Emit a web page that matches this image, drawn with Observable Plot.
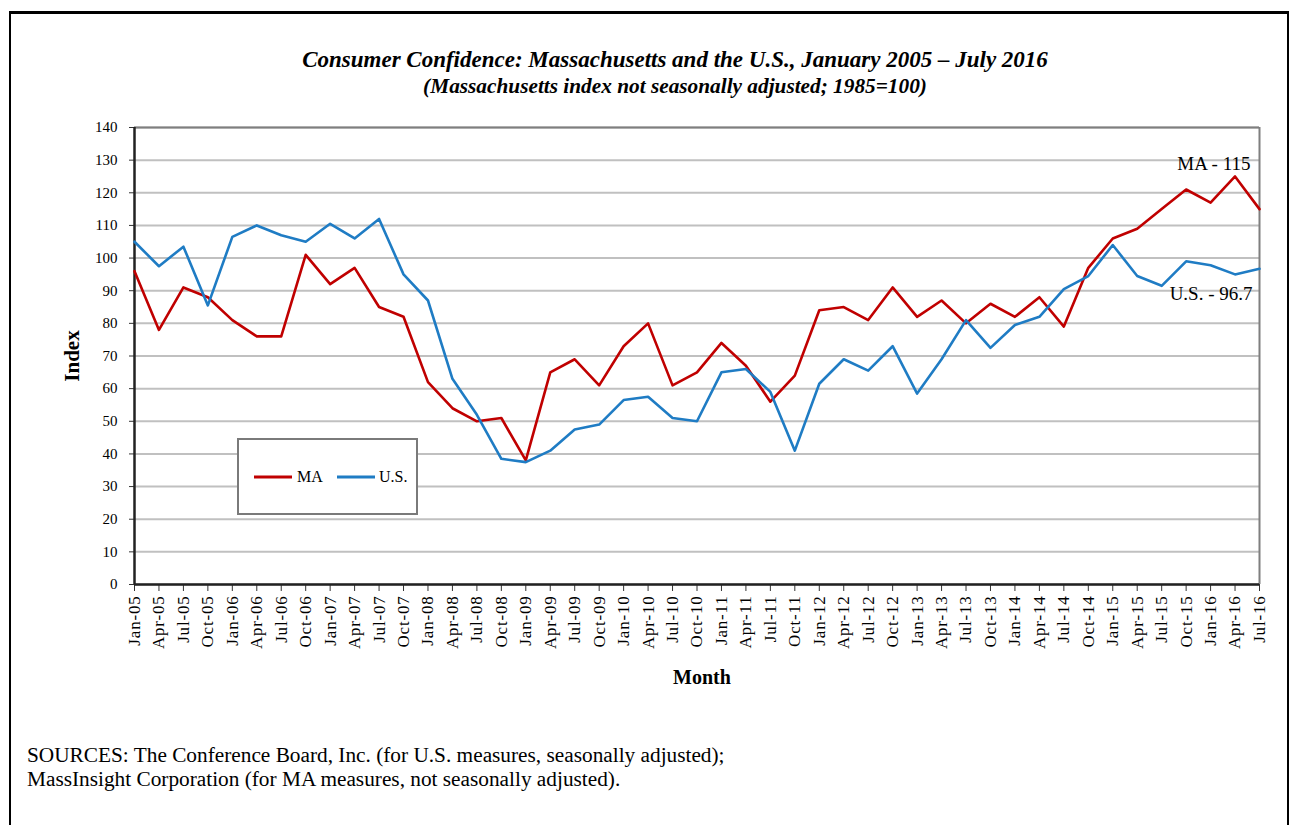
<!DOCTYPE html>
<html><head><meta charset="utf-8">
<script src="https://cdn.jsdelivr.net/npm/d3@7"></script>
<script src="https://cdn.jsdelivr.net/npm/@observablehq/plot@0.6"></script>
<style>
body{margin:0;background:#fff;font-family:"Liberation Serif","Times New Roman",serif;color:#000;width:1291px;height:825px;overflow:hidden;position:relative;}
#frame{position:absolute;left:9px;top:11px;width:1276px;height:840px;border-left:2px solid #000;border-right:2px solid #000;border-top:3px solid #000;}
.title{position:absolute;left:0;width:1350px;text-align:center;font-weight:bold;font-style:italic;white-space:nowrap;line-height:26px;}
#t1{top:47px;font-size:23px;}
#t2{top:73px;font-size:21.3px;}
#chart{position:absolute;left:0;top:100px;}
#legend{position:absolute;left:237px;top:438px;width:177px;height:73px;border:2px solid #7a7a7a;background:#fff;}
#legend svg{position:absolute;left:0;top:0;}
#sources{position:absolute;left:27px;top:743px;font-size:21.3px;line-height:24px;white-space:nowrap;}
</style></head><body>
<div id="frame"></div>
<div class="title" id="t1">Consumer Confidence: Massachusetts and the U.S., January 2005 – July 2016</div>
<div class="title" id="t2">(Massachusetts index not seasonally adjusted; 1985=100)</div>
<div id="chart"></div>
<div id="legend"></div>
<div id="sources">SOURCES: The Conference Board, Inc. (for U.S. measures, seasonally adjusted);<br>MassInsight Corporation (for MA measures, not seasonally adjusted).</div>
<script>
const months = ["Jan-05","Apr-05","Jul-05","Oct-05","Jan-06","Apr-06","Jul-06","Oct-06","Jan-07","Apr-07","Jul-07","Oct-07",
  "Jan-08","Apr-08","Jul-08","Oct-08","Jan-09","Apr-09","Jul-09","Oct-09","Jan-10","Apr-10","Jul-10","Oct-10",
  "Jan-11","Apr-11","Jul-11","Oct-11","Jan-12","Apr-12","Jul-12","Oct-12","Jan-13","Apr-13","Jul-13","Oct-13",
  "Jan-14","Apr-14","Jul-14","Oct-14","Jan-15","Apr-15","Jul-15","Oct-15","Jan-16","Apr-16","Jul-16"];
const maValues = [96,78,91,88,81,76,76,101,92,97,85,82,
  62,54,50,51,38,65,69,61,73,80,61,65,
  74,67,56,64,84,85,81,91,82,87,80,86,
  82,88,79,97,106,109,115,121,117,125,115];
const usValues = [105,97.5,103.5,85.5,106.5,110,107,105,110.5,106,112,95,
  87,63,52,38.5,37.5,41,47.5,49,56.5,57.5,51,50,
  65,66,59,41,61.5,69,65.5,73,58.5,69,81,72.5,
  79.5,82,90.5,94.5,104,94.5,91.5,99,97.8,95,96.7];
const seriesNames = ["MA","U.S."];
const seriesColors = ["#c00000","#1f7cc4"];
const yTicks = [0,10,20,30,40,50,60,70,80,90,100,110,120,130,140];
const endLabels = ["MA - 115","U.S. - 96.7"];

const idx = months.map((m,i)=>i);
const data = months.flatMap((m,i)=>[
  {i, series:seriesNames[0], value:maValues[i]},
  {i, series:seriesNames[1], value:usValues[i]}
]);
const last = months.length-1;
const endData = [
  {i:last, value:maValues[last], label:endLabels[0]},
  {i:last, value:usValues[last], label:endLabels[1]}
];

const chart = Plot.plot({
  width:1291, height:620,
  marginLeft:134, marginRight:32, marginTop:27, marginBottom:136,
  style:{fontFamily:"Liberation Serif, Times New Roman, serif", fontSize:"15px", color:"#000", background:"transparent", overflow:"visible"},
  x:{type:"linear", domain:[0,last], label:null},
  y:{domain:[0,140], label:null},
  color:{domain:seriesNames, range:seriesColors},
  marks:[
    Plot.gridY(yTicks, {stroke:"#c0c0c0", strokeWidth:2, strokeOpacity:1}),
    Plot.ruleY([140], {stroke:"#7f7f7f", strokeWidth:2}),
    Plot.ruleX([last], {stroke:"#7f7f7f", strokeWidth:2}),
    Plot.axisY(yTicks, {tickSize:5, tickPadding:12, fontSize:15, label:null, stroke:"#333"}),
    Plot.axisX(idx, {tickFormat:i=>months[i], tickRotate:-90, tickSize:7, tickPadding:4, fontSize:17, label:null, stroke:"#333"}),
    Plot.ruleX([0], {stroke:"#222", strokeWidth:2.5}),
    Plot.ruleY([0], {stroke:"#222", strokeWidth:2.5}),
    Plot.line(data, {x:"i", y:"value", z:"series", stroke:"series", strokeWidth:2.6}),
    Plot.text([endData[0]], {x:"i", y:"value", text:"label", textAnchor:"end", dx:-9, dy:-45, fontSize:19}),
    Plot.text([endData[1]], {x:"i", y:"value", text:"label", textAnchor:"end", dx:-7, dy:25, fontSize:19}),
    Plot.text(["Index"], {text:d=>d, frameAnchor:"left", textAnchor:"middle", lineAnchor:"middle", dx:-62, rotate:-90, fontWeight:"bold", fontSize:21}),
    Plot.text(["Month"], {text:d=>d, frameAnchor:"bottom", textAnchor:"middle", lineAnchor:"middle", dx:5, dy:93, fontWeight:"bold", fontSize:20})
  ]
});
chart.querySelectorAll('g[aria-label="x-axis tick label"] text').forEach(t=>t.setAttribute("letter-spacing","0.8"));
document.getElementById("chart").appendChild(chart);

// legend
const lg = d3.select("#legend").append("svg").attr("width",177).attr("height",73);
const items = [{x:15, tx:58}, {x:98, tx:140}];
seriesNames.forEach((s,i)=>{
  const it = items[i];
  lg.append("line").attr("x1",it.x).attr("x2",it.x+38).attr("y1",37).attr("y2",37)
    .attr("stroke",seriesColors[i]).attr("stroke-width",3);
  lg.append("text").attr("x",it.tx).attr("y",42).attr("font-size",16)
    .attr("font-family","Liberation Serif, serif").text(s);
});
</script>
</body></html>
